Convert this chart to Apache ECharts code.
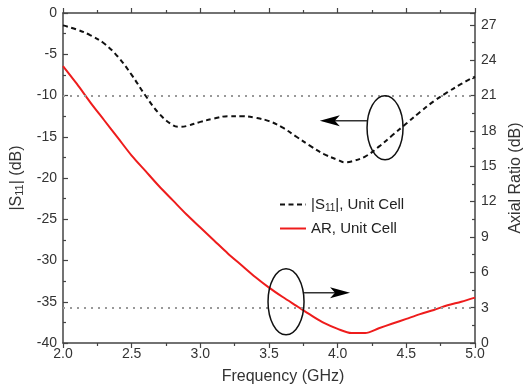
<!DOCTYPE html>
<html>
<head>
<meta charset="utf-8">
<script src="https://cdn.jsdelivr.net/npm/echarts@6/dist/echarts.min.js"></script>
<style>html,body{margin:0;padding:0;background:#fff}#c{width:532px;height:390px}</style>
</head>
<body>
<div id="c"></div>
<script>
// Frequency (GHz) and values
const s11Freq = [2.0,2.1,2.2,2.3,2.4,2.5,2.6,2.7,2.8,2.85,2.9,3.0,3.1,3.2,3.3,3.4,3.5,3.6,3.7,3.8,3.9,4.0,4.05,4.1,4.2,4.3,4.4,4.5,4.6,4.7,4.8,4.9,5.0];
const s11Vals = [-1.5,-2.0,-2.7,-3.7,-5.3,-7.5,-10.0,-12.2,-13.6,-13.8,-13.7,-13.2,-12.8,-12.5,-12.5,-12.7,-13.1,-13.9,-15.0,-16.1,-17.1,-17.8,-18.1,-18.0,-17.4,-16.2,-14.8,-13.4,-12.0,-10.7,-9.6,-8.6,-7.7];
const arFreq = [2.0,2.1,2.2,2.3,2.4,2.5,2.6,2.7,2.8,2.9,3.0,3.1,3.2,3.3,3.4,3.5,3.6,3.7,3.8,3.9,4.0,4.1,4.2,4.3,4.4,4.5,4.6,4.7,4.8,4.9,5.0];
const arVals = [23.5,22.0,20.4,18.9,17.4,15.9,14.6,13.3,12.1,10.9,9.8,8.7,7.6,6.6,5.6,4.7,3.9,3.15,2.4,1.7,1.2,0.85,0.85,1.25,1.65,2.05,2.45,2.8,3.2,3.5,3.85];
const s11Ref = -10;   // left-axis reference line
const arRef = 3;      // right-axis reference line
const seriesNames = ['|S{sub|11}|, Unit Cell', 'AR, Unit Cell'];
// annotation anchors in data units [freq, |S11| dB]
const ellipse1 = [4.345, -13.9];
const arrow1Tip = [3.87, -13.0];
const ellipse2 = [3.624, -35.0];
const arrow2Tip = [4.09, -33.9];

const axisColor = '#444';
const labelColor = '#333';
const font = 'Liberation Sans, Arial, sans-serif';

const chart = echarts.init(document.getElementById('c'), null, {renderer: 'canvas'});

chart.setOption({
  animation: false,
  backgroundColor: '#fff',
  grid: {left: 63, right: 57, top: 13, bottom: 45},
  legend: {
    orient: 'vertical', left: 279, top: 197, padding: 0, itemWidth: 26, itemHeight: 12, itemGap: 8,
    data: seriesNames,
    itemStyle: {opacity: 0},
    textStyle: {fontFamily: font, fontSize: 15, color: '#222', rich: {sub: {fontSize: 10, fontFamily: font, color: '#222', verticalAlign: 'bottom', padding: [7, 0, 0, 0]}}}
  },
  xAxis: [{
    type: 'value', min: 2, max: 5, interval: 0.5,
    name: 'Frequency (GHz)', nameLocation: 'middle', nameGap: 26,
    nameTextStyle: {fontFamily: font, fontSize: 16, color: labelColor, padding: [0, 0, 0, 28]},
    axisLine: {show: true, lineStyle: {color: axisColor, width: 1.5}},
    axisTick: {show: true, inside: true, length: 5, lineStyle: {color: axisColor, width: 1.2}},
    minorTick: {show: true, splitNumber: 2, length: 3, lineStyle: {color: axisColor, width: 1.2}},
    axisLabel: {fontFamily: font, fontSize: 14, color: labelColor, margin: 4, formatter: v => v.toFixed(1)},
    splitLine: {show: false}
  }, {
    type: 'value', min: 2, max: 5, interval: 0.5, position: 'top',
    axisLine: {show: true, lineStyle: {color: axisColor, width: 1.5}},
    axisTick: {show: true, inside: true, length: 5, lineStyle: {color: axisColor, width: 1.2}},
    minorTick: {show: true, splitNumber: 2, length: 3, lineStyle: {color: axisColor, width: 1.2}},
    axisLabel: {show: false}, splitLine: {show: false}
  }],
  yAxis: [{
    type: 'value', min: -40, max: 0, interval: 5,
    name: '|S{sub|11}| (dB)', nameLocation: 'middle', nameGap: 35, nameRotate: 90,
    nameTextStyle: {fontFamily: font, fontSize: 16, color: labelColor, rich: {sub: {fontSize: 11, fontFamily: font, color: labelColor, verticalAlign: 'bottom', padding: [7, 0, 0, 0]}}},
    axisLine: {show: true, lineStyle: {color: axisColor, width: 1.5}},
    axisTick: {show: true, inside: true, length: 5, lineStyle: {color: axisColor, width: 1.2}},
    minorTick: {show: true, splitNumber: 2, length: 3, lineStyle: {color: axisColor, width: 1.2}},
    axisLabel: {fontFamily: font, fontSize: 14, color: labelColor, margin: 6},
    splitLine: {show: false}
  }, {
    type: 'value', min: 0, max: 28, interval: 3, position: 'right',
    name: 'Axial Ratio (dB)', nameLocation: 'middle', nameGap: 29, nameRotate: 90,
    nameTextStyle: {fontFamily: font, fontSize: 16, color: labelColor},
    axisLine: {show: true, lineStyle: {color: axisColor, width: 1.5}},
    axisTick: {show: true, inside: true, length: 5, lineStyle: {color: axisColor, width: 1.2}},
    minorTick: {show: true, splitNumber: 2, length: 3, lineStyle: {color: axisColor, width: 1.2}},
    axisLabel: {fontFamily: font, fontSize: 14, color: labelColor, margin: 6, showMaxLabel: false},
    splitLine: {show: false}
  }],
  series: [{
    name: seriesNames[0], type: 'line', xAxisIndex: 0, yAxisIndex: 0,
    data: s11Freq.map((f, i) => [f, s11Vals[i]]),
    smooth: 0.4, symbol: 'none', color: '#111',
    lineStyle: {color: '#111', width: 2, type: [5, 3.5]},
    markLine: {silent: true, symbol: 'none', label: {show: false},
      lineStyle: {color: '#999', width: 2, type: [2, 5]}, data: [{yAxis: s11Ref}]},
    z: 3
  }, {
    name: seriesNames[1], type: 'line', xAxisIndex: 0, yAxisIndex: 1,
    data: arFreq.map((f, i) => [f, arVals[i]]),
    smooth: 0.3, symbol: 'none', color: '#ee1c1c',
    lineStyle: {color: '#ee1c1c', width: 2},
    markLine: {silent: true, symbol: 'none', label: {show: false},
      lineStyle: {color: '#999', width: 2, type: [2, 5]}, data: [{yAxis: arRef}]},
    z: 3
  }]
});

function px(p) { return chart.convertToPixel({xAxisIndex: 0, yAxisIndex: 0}, p); }
const e1 = px(ellipse1), t1 = px(arrow1Tip), e2 = px(ellipse2), t2 = px(arrow2Tip);
const rx = 18, ry = 32;
const a1y = e1[1] - 7, a2y = e2[1] - 9;
const graphics = [
  {type: 'ellipse', shape: {cx: e1[0], cy: e1[1], rx: rx, ry: ry}, style: {fill: 'none', stroke: '#111', lineWidth: 1.5}, z: 10},
  {type: 'line', shape: {x1: e1[0] - rx, y1: a1y, x2: t1[0] + 14, y2: a1y}, style: {stroke: '#333', lineWidth: 1.5}, z: 10},
  {type: 'polygon', shape: {points: [[t1[0], a1y], [t1[0] + 20, a1y - 5.5], [t1[0] + 15, a1y], [t1[0] + 20, a1y + 5.5]]}, style: {fill: '#000'}, z: 10},
  {type: 'ellipse', shape: {cx: e2[0], cy: e2[1], rx: rx, ry: 33}, style: {fill: 'none', stroke: '#111', lineWidth: 1.5}, z: 10},
  {type: 'line', shape: {x1: e2[0] + rx, y1: a2y, x2: t2[0] - 14, y2: a2y}, style: {stroke: '#333', lineWidth: 1.5}, z: 10},
  {type: 'polygon', shape: {points: [[t2[0], a2y], [t2[0] - 20, a2y - 5.5], [t2[0] - 15, a2y], [t2[0] - 20, a2y + 5.5]]}, style: {fill: '#000'}, z: 10}
];
chart.setOption({graphic: graphics});
</script>
</body>
</html>
